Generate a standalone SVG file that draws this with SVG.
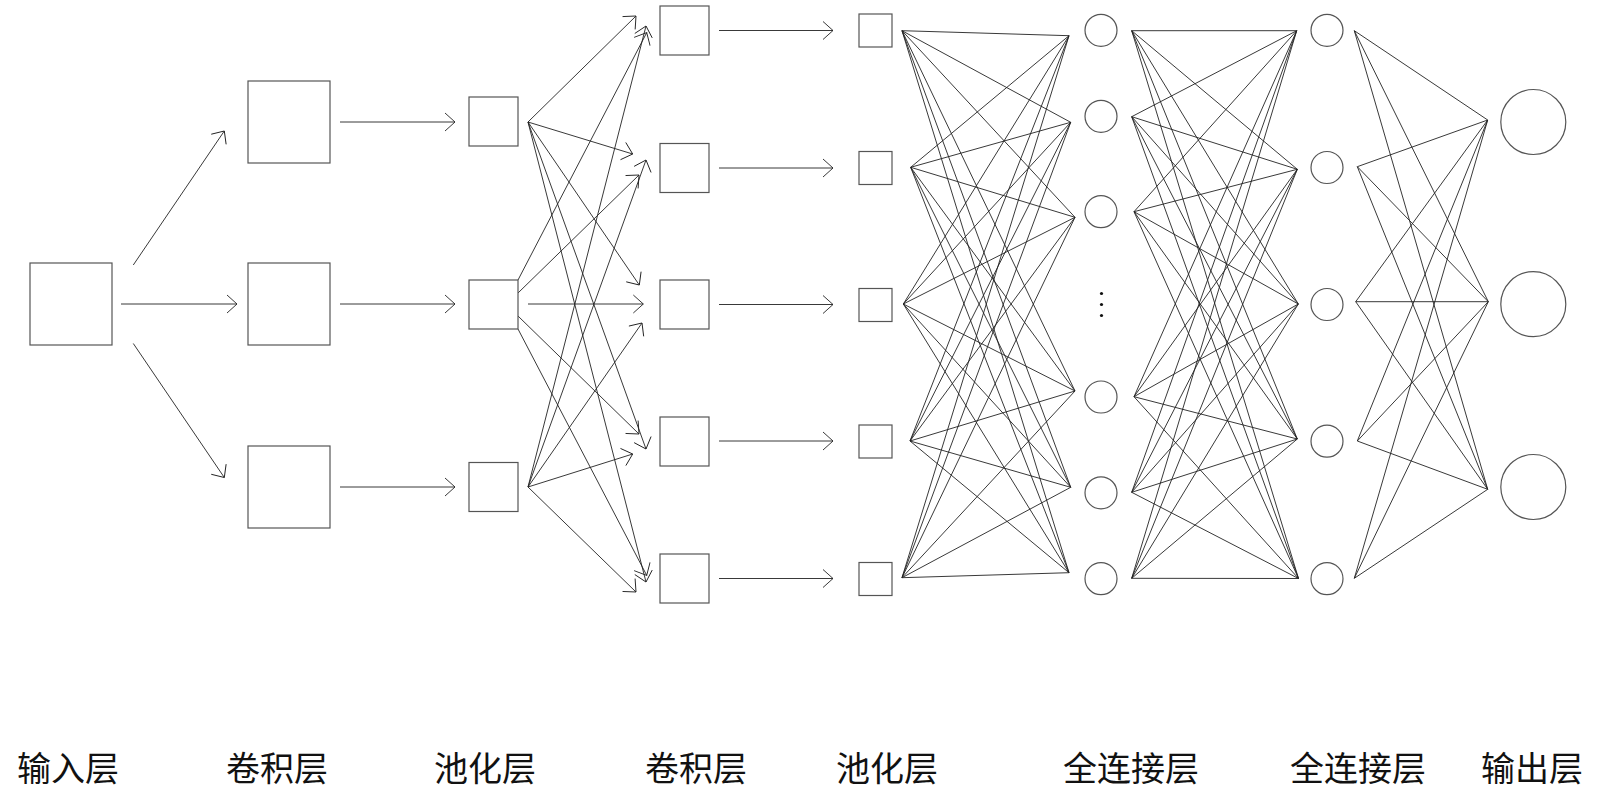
<svg xmlns="http://www.w3.org/2000/svg" width="1598" height="790" viewBox="0 0 1598 790">
<style>
.nd{fill:#fff;stroke:#555;stroke-width:1.2}
.ln{stroke:#222;stroke-width:0.9;fill:none}
.ar{stroke:#222;stroke-width:0.9;fill:none;marker-end:url(#ah)}
.dot{fill:#111}
.lb{font-family:"Noto Sans CJK SC","Noto Sans CJK JP",sans-serif;font-size:34px;font-weight:400;fill:#111;text-anchor:middle}
</style>
<defs>
<marker id="ah" markerUnits="userSpaceOnUse" markerWidth="14" markerHeight="22" refX="11" refY="10" orient="auto" overflow="visible">
<path d="M1,1 L11,10 L1,19" fill="none" stroke="#222" stroke-width="0.9"/>
</marker>
</defs>
<rect width="1598" height="790" fill="#fff"/>
<g id="connectors">
<line class="ar" x1="133.3" y1="265" x2="224.3" y2="131"/>
<line class="ar" x1="121" y1="304" x2="237" y2="304"/>
<line class="ar" x1="133.3" y1="343.5" x2="224.3" y2="477.5"/>
<line class="ar" x1="340" y1="122" x2="455" y2="122"/>
<line class="ar" x1="340" y1="304" x2="455" y2="304"/>
<line class="ar" x1="340" y1="487" x2="455" y2="487"/>
<line class="ar" x1="528" y1="122" x2="636" y2="16"/>
<line class="ar" x1="528" y1="122" x2="632.7" y2="154"/>
<line class="ar" x1="528" y1="122" x2="639.3" y2="285"/>
<line class="ar" x1="528" y1="122" x2="646" y2="449"/>
<line class="ar" x1="528" y1="122" x2="646" y2="582"/>
<line class="ar" x1="518" y1="280" x2="646.7" y2="32.7"/>
<line class="ar" x1="518" y1="293" x2="639" y2="175"/>
<line class="ar" x1="528" y1="304" x2="643.3" y2="304" stroke-width="1.3"/>
<line class="ar" x1="518" y1="316" x2="639" y2="434"/>
<line class="ar" x1="518" y1="329" x2="646.7" y2="575.3"/>
<line class="ar" x1="528" y1="487" x2="646" y2="26"/>
<line class="ar" x1="528" y1="487" x2="646" y2="160"/>
<line class="ar" x1="528" y1="487" x2="642" y2="323"/>
<line class="ar" x1="528" y1="487" x2="632.7" y2="454"/>
<line class="ar" x1="528" y1="487" x2="636" y2="592"/>
<line class="ar" x1="719" y1="30.5" x2="833" y2="30.5"/>
<line class="ar" x1="719" y1="168" x2="833" y2="168"/>
<line class="ar" x1="719" y1="304.5" x2="833" y2="304.5"/>
<line class="ar" x1="719" y1="441" x2="833" y2="441"/>
<line class="ar" x1="719" y1="578.5" x2="833" y2="578.5"/>
<path class="ln" d="M902,30.7L1069,35.7M902,30.7L1070.7,122.3M902,30.7L1075,217.3M902,30.7L1075,391M902,30.7L1070.7,487.3M902,30.7L1069,572.7"/>
<path class="ln" d="M910.7,167.3L1069,35.7M910.7,167.3L1070.7,122.3M910.7,167.3L1075,217.3M910.7,167.3L1075,391M910.7,167.3L1070.7,487.3M910.7,167.3L1069,572.7"/>
<path class="ln" d="M903.3,304L1069,35.7M903.3,304L1070.7,122.3M903.3,304L1075,217.3M903.3,304L1075,391M903.3,304L1070.7,487.3M903.3,304L1069,572.7"/>
<path class="ln" d="M910,441L1069,35.7M910,441L1070.7,122.3M910,441L1075,217.3M910,441L1075,391M910,441L1070.7,487.3M910,441L1069,572.7"/>
<path class="ln" d="M902,577.7L1069,35.7M902,577.7L1070.7,122.3M902,577.7L1075,217.3M902,577.7L1075,391M902,577.7L1070.7,487.3M902,577.7L1069,572.7"/>
<path class="ln" d="M1131.7,30.7L1296.7,30.7M1131.7,30.7L1297.3,169.3M1131.7,30.7L1298.3,304M1131.7,30.7L1297.3,439M1131.7,30.7L1298.5,578.5"/>
<path class="ln" d="M1131.7,116.7L1296.7,30.7M1131.7,116.7L1297.3,169.3M1131.7,116.7L1298.3,304M1131.7,116.7L1297.3,439M1131.7,116.7L1298.5,578.5"/>
<path class="ln" d="M1134,211.7L1296.7,30.7M1134,211.7L1297.3,169.3M1134,211.7L1298.3,304M1134,211.7L1297.3,439M1134,211.7L1298.5,578.5"/>
<path class="ln" d="M1134,396.7L1296.7,30.7M1134,396.7L1297.3,169.3M1134,396.7L1298.3,304M1134,396.7L1297.3,439M1134,396.7L1298.5,578.5"/>
<path class="ln" d="M1131.7,492.3L1296.7,30.7M1131.7,492.3L1297.3,169.3M1131.7,492.3L1298.3,304M1131.7,492.3L1297.3,439M1131.7,492.3L1298.5,578.5"/>
<path class="ln" d="M1131.7,578.3L1296.7,30.7M1131.7,578.3L1297.3,169.3M1131.7,578.3L1298.3,304M1131.7,578.3L1297.3,439M1131.7,578.3L1298.5,578.5"/>
<path class="ln" d="M1354.3,30.7L1487.7,120M1354.3,30.7L1488.3,301.7M1354.3,30.7L1487.7,489.3"/>
<path class="ln" d="M1357.3,166.7L1487.7,120M1357.3,166.7L1488.3,301.7M1357.3,166.7L1487.7,489.3"/>
<path class="ln" d="M1355.7,301.7L1487.7,120M1355.7,301.7L1488.3,301.7M1355.7,301.7L1487.7,489.3"/>
<path class="ln" d="M1357.3,441L1487.7,120M1357.3,441L1488.3,301.7M1357.3,441L1487.7,489.3"/>
<path class="ln" d="M1354.3,578.3L1487.7,120M1354.3,578.3L1488.3,301.7M1354.3,578.3L1487.7,489.3"/>
</g>
<g id="input"><rect class="nd" x="30" y="263" width="82" height="82"/></g>
<g id="conv1-1"><rect class="nd" x="248" y="81" width="82" height="82"/></g>
<g id="conv1-2"><rect class="nd" x="248" y="263" width="82" height="82"/></g>
<g id="conv1-3"><rect class="nd" x="248" y="446" width="82" height="82"/></g>
<g id="pool1-1"><rect class="nd" x="469" y="97" width="49" height="49"/></g>
<g id="pool1-2"><rect class="nd" x="469" y="280" width="49" height="49"/></g>
<g id="pool1-3"><rect class="nd" x="469" y="462.5" width="49" height="49"/></g>
<g id="conv2-1"><rect class="nd" x="660" y="6" width="49" height="49"/></g>
<g id="conv2-2"><rect class="nd" x="660" y="143.5" width="49" height="49"/></g>
<g id="conv2-3"><rect class="nd" x="660" y="280" width="49" height="49"/></g>
<g id="conv2-4"><rect class="nd" x="660" y="417" width="49" height="49"/></g>
<g id="conv2-5"><rect class="nd" x="660" y="554" width="49" height="49"/></g>
<g id="pool2-1"><rect class="nd" x="859" y="14" width="33" height="33"/></g>
<g id="pool2-2"><rect class="nd" x="859" y="151.5" width="33" height="33"/></g>
<g id="pool2-3"><rect class="nd" x="859" y="288.5" width="33" height="33"/></g>
<g id="pool2-4"><rect class="nd" x="859" y="425" width="33" height="33"/></g>
<g id="pool2-5"><rect class="nd" x="859" y="562.5" width="33" height="33"/></g>
<g id="fc1-1"><circle class="nd" cx="1101" cy="30.3" r="16"/></g>
<g id="fc1-2"><circle class="nd" cx="1101" cy="116.3" r="16"/></g>
<g id="fc1-3"><circle class="nd" cx="1101" cy="211.7" r="16"/></g>
<g id="fc1-dots"><circle class="dot" cx="1101.5" cy="293.5" r="1.6"/><circle class="dot" cx="1101.5" cy="304.5" r="1.6"/><circle class="dot" cx="1101.5" cy="315.5" r="1.6"/></g>
<g id="fc1-4"><circle class="nd" cx="1101" cy="397" r="16"/></g>
<g id="fc1-5"><circle class="nd" cx="1101" cy="492.8" r="16"/></g>
<g id="fc1-6"><circle class="nd" cx="1101" cy="578.7" r="16"/></g>
<g id="fc2-1"><circle class="nd" cx="1327" cy="30.3" r="16"/></g>
<g id="fc2-2"><circle class="nd" cx="1327" cy="167.5" r="16"/></g>
<g id="fc2-3"><circle class="nd" cx="1327" cy="304.5" r="16"/></g>
<g id="fc2-4"><circle class="nd" cx="1327" cy="441.2" r="16"/></g>
<g id="fc2-5"><circle class="nd" cx="1327" cy="578.7" r="16"/></g>
<g id="out-1"><circle class="nd" cx="1533.3" cy="122" r="32.5"/></g>
<g id="out-2"><circle class="nd" cx="1533.3" cy="304.2" r="32.5"/></g>
<g id="out-3"><circle class="nd" cx="1533.3" cy="487" r="32.5"/></g>
<g id="labels">
<text class="lb" x="68" y="781">输入层</text>
<text class="lb" x="277" y="781">卷积层</text>
<text class="lb" x="485" y="781">池化层</text>
<text class="lb" x="696" y="781">卷积层</text>
<text class="lb" x="887" y="781">池化层</text>
<text class="lb" x="1131" y="781">全连接层</text>
<text class="lb" x="1358" y="781">全连接层</text>
<text class="lb" x="1532" y="781">输出层</text>
</g>
</svg>
